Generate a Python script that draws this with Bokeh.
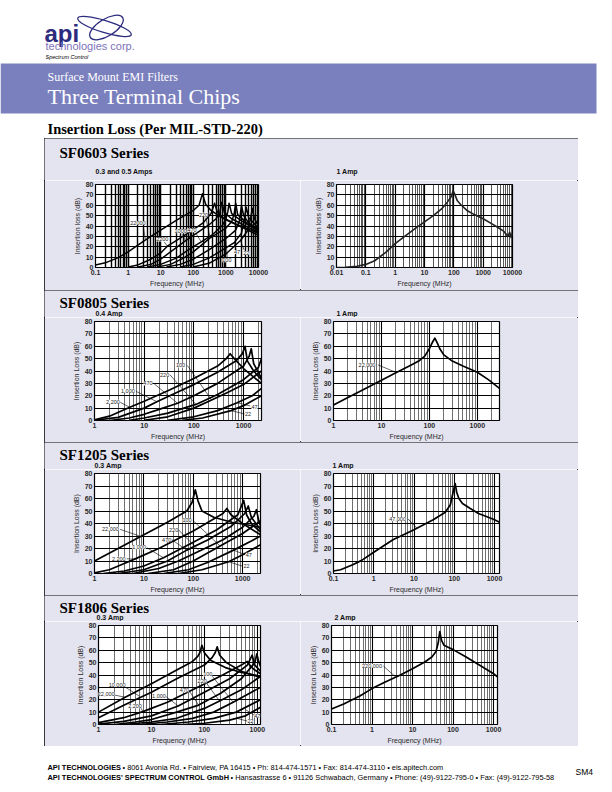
from bokeh.plotting import figure
from bokeh.models import (Range1d, FixedTicker, Label, LabelSet, ColumnDataSource, Spacer,
                          PrintfTickFormatter)
from bokeh.layouts import column, row
from bokeh.embed import file_html
from bokeh.resources import INLINE
from bokeh.core.properties import value

# ---------------------------------------------------------------- data
# SF0603 Series, 0.3 and 0.5 Amps  (frequency MHz / insertion loss dB)
F_0603A_22000 = [0.1, 0.2, 0.5, 1, 3, 10, 30, 100, 150, 190, 240, 350, 600, 1000, 3000, 10000]
DB_0603A_22000 = [2.5, 4.5, 9.5, 15, 25.5, 36, 45.5, 55, 60, 71, 61, 55, 50, 46, 39, 31]
F_0603A_2200 = [1, 2, 5, 10, 16, 30, 100, 200, 350, 450, 550, 800, 2000, 10000]
DB_0603A_2200 = [0.5, 2.5, 8, 14, 20.5, 26, 36.5, 43, 52, 62, 53, 48, 42, 33]
F_0603A_1000 = [2, 5, 10, 20, 57, 100, 300, 500, 650, 750, 900, 1500, 4000, 10000]
DB_0603A_1000 = [0.5, 3, 8, 15, 25.6, 31, 41, 47, 53, 63, 53, 47, 40, 34]
F_0603A_470 = [4, 10, 30, 70, 176, 400, 800, 1000, 1150, 1250, 1500, 3000, 10000]
DB_0603A_470 = [0.5, 3, 9, 17, 24.6, 32, 41, 47, 54, 62, 52, 45, 35]
F_0603A_220 = [8, 20, 50, 100, 330, 1000, 1500, 1800, 2000, 2300, 4000, 10000]
DB_0603A_220 = [0.5, 3, 9, 15, 28.5, 38, 44, 52, 62, 51, 44, 36]
F_0603A_100 = [15, 40, 100, 300, 1000, 2000, 2600, 3000, 3500, 5000, 10000]
DB_0603A_100 = [0.5, 3, 8, 17, 28, 36, 45, 60, 50, 43, 37]
F_0603A_47 = [40, 100, 300, 1000, 1800, 3000, 3600, 4200, 5000, 10000]
DB_0603A_47 = [0.5, 3, 9, 19, 24, 33, 45, 58, 48, 38]
F_0603A_22 = [100, 300, 1000, 2800, 4500, 5500, 6500, 7500, 10000]
DB_0603A_22 = [0.5, 4, 13, 26, 35, 45, 57, 47, 40]

# SF0603 Series, 1 Amp
F_0603B_1A = [0.01, 0.02, 0.05, 0.1, 0.2, 0.5, 1, 2, 5, 10, 20, 40, 60, 80, 95, 110, 130, 180,
              280, 500, 1000, 2000, 3000, 5000, 7000, 8000, 9000, 10000]
DB_0603B_1A = [0, 0.3, 1.2, 3, 6.5, 15, 23, 29.5, 38, 44, 50, 57, 63, 68, 74, 70, 64.5, 60,
               55, 51, 47, 42, 39, 35, 30, 34, 29, 33]

# SF0805 Series, 0.4 Amp
F_0805A_2200 = [1, 2, 5, 10, 30, 100, 300, 450, 537, 650, 1000, 1500, 2300]
DB_0805A_2200 = [0.5, 3.5, 10.5, 15.5, 24, 34, 44, 50, 54, 50, 42, 36, 30]
F_0805A_1000 = [1, 3, 10, 18, 50, 100, 300, 700, 950, 1070, 1200, 1600, 2300]
DB_0805A_1000 = [0.2, 2.5, 10, 15.2, 23.5, 29, 39, 48, 54, 60, 48, 40, 33]
F_0805A_470 = [2, 5, 10, 20, 47, 100, 300, 1000, 1300, 1430, 1600, 2300]
DB_0805A_470 = [0, 2, 5, 9, 13.9, 20, 30, 44, 52, 58, 46, 34]
F_0805A_220 = [5, 10, 30, 110, 300, 1000, 2000, 2300]
DB_0805A_220 = [0.2, 2, 6, 13, 21, 33, 43, 50]
F_0805A_100 = [10, 30, 100, 228, 500, 1000, 2300]
DB_0805A_100 = [0.2, 3, 10, 16.5, 23, 29, 40]
F_0805A_47 = [30, 100, 300, 745, 1500, 2300]
DB_0805A_47 = [0.2, 3, 8, 14.4, 20, 26]
F_0805A_22 = [60, 150, 560, 1000, 2300]
DB_0805A_22 = [0.2, 2, 8, 12, 20]

# SF0805 Series, 1 Amp (22,000 pF)
F_0805B_1A = [1, 2, 5, 10, 20, 40, 60, 80, 100, 115, 130, 145, 165, 200, 300, 500, 1000, 1700, 2900]
DB_0805B_1A = [12.6, 18.6, 26.5, 32.6, 38.6, 44.5, 48, 52, 58, 63, 66.5, 63, 58, 53, 48, 44, 39, 33, 26]

# SF1205 Series, 0.3 Amp
F_1205A_22000 = [1, 3, 10, 30, 74, 95, 110, 125, 150, 260, 600, 1200, 2300]
DB_1205A_22000 = [10, 20, 31, 41, 50, 57, 67, 58, 50, 45, 41, 39, 37]
F_1205A_2200 = [1, 2, 4, 6.5, 20, 50, 100, 200, 400, 480, 580, 1000, 2300]
DB_1205A_2200 = [0.5, 3, 8, 11.5, 20, 28, 34, 41, 48, 52, 47, 40, 31]
F_1205A_1000 = [1.5, 4, 10, 25, 100, 300, 800, 1050, 1200, 1500, 2300]
DB_1205A_1000 = [0, 2, 6, 12.6, 25, 35, 47, 58.5, 47, 40, 33]
F_1205A_470 = [3, 10, 30, 74, 200, 600, 1100, 1300, 1500, 2300]
DB_1205A_470 = [0, 3, 10, 18.7, 27, 38, 48, 54, 45, 35]
F_1205A_220 = [6, 20, 50, 134, 400, 1000, 1700, 1900, 2100, 2300]
DB_1205A_220 = [0, 4, 10, 18, 27, 37, 46, 51, 43, 38]
F_1205A_100 = [12, 40, 100, 350, 1000, 2300]
DB_1205A_100 = [0, 3, 10, 22, 32, 42]
F_1205A_47 = [25, 80, 200, 655, 1500, 2300]
DB_1205A_47 = [0, 3, 9, 18.7, 26, 30]
F_1205A_22 = [50, 150, 520, 1000, 2300]
DB_1205A_22 = [0, 3, 9.4, 15, 23]

# SF1205 Series, 1 Amp (47,000 pF)
F_1205B_1A = [0.1, 0.15, 0.3, 0.5, 1, 3, 10, 30, 60, 80, 95, 105, 115, 130, 160, 250, 400, 700, 1000, 1330]
DB_1205B_1A = [2, 3, 7, 10.5, 17, 27, 35, 43, 49, 55, 66, 72, 65, 60, 56, 52, 48, 45, 43, 41]

# SF1806 Series, 0.3 Amp
F_1806A_22000 = [1, 3, 10, 30, 60, 75, 82, 90, 100, 130, 250, 500, 1150]
DB_1806A_22000 = [10, 21.5, 33, 44, 51, 55, 58, 64, 58, 52, 46, 42, 39]
F_1806A_10000 = [1, 3, 10, 30, 100, 140, 160, 175, 195, 260, 500, 1150]
DB_1806A_10000 = [5.5, 15.5, 26, 37, 48, 54, 58, 62.7, 56, 50, 43, 38]
F_1806A_2200 = [1, 3, 6.9, 20, 60, 200, 500, 645, 750, 900, 1150]
DB_1806A_2200 = [1.5, 5.5, 10.4, 18, 28, 39, 48, 51, 47, 44, 41]
F_1806A_1000 = [1, 3, 10, 32, 100, 300, 650, 800, 900, 1150]
DB_1806A_1000 = [0.3, 2.5, 7, 15, 26, 37, 48, 56, 48, 43]
F_1806A_470 = [2, 5, 10, 30, 78, 200, 500, 900, 980, 1060, 1150]
DB_1806A_470 = [0, 2, 4, 10, 15.7, 25, 37, 50, 57, 51, 47]
F_1806A_220 = [3, 10, 30, 100, 194, 500, 1150]
DB_1806A_220 = [0, 2, 5, 13, 19, 28, 39]
F_1806A_100 = [6, 20, 60, 150, 350, 1150]
DB_1806A_100 = [0, 2, 5, 10, 18, 30]
F_1806A_47 = [15, 50, 150, 400, 1150]
DB_1806A_47 = [0, 2, 5, 10, 20]
F_1806A_22 = [40, 100, 300, 600, 1150]
DB_1806A_22 = [0, 1, 3.5, 7, 14]

# SF1806 Series, 2 Amp (220,000 pF)
F_1806B_2A = [0.1, 0.2, 0.5, 1, 2, 5, 10, 20, 30, 38, 43, 47, 52, 60, 80, 100, 200, 500, 1000, 1250]
DB_1806B_2A = [12.5, 16.5, 23, 29, 34, 40, 45, 50.5, 54.5, 59, 66, 75, 68, 64, 62, 60.5, 55, 47, 41, 38.5]

# curve call-out texts
TXT_0603A = ["22000", "2200", "1000", "470", "220", "100", "47", "22"]
TXT_0805A = ["2,200", "1,000", "470", "220", "100", "47", "22"]
TXT_0805B = ["22,000"]
TXT_1205A = ["22,000", "2,200", "1,000", "470", "220", "100", "47", "22"]
TXT_1205B = ["47,000"]
TXT_1806A = ["10,000", "22,000", "2,200", "1,000", "470", "220", "100", "47", "22"]
TXT_1806B = ["220,000"]

# ---------------------------------------------------------------- annotation placement (data space)
POS_0603A = [(2.0, 43), (11.2, 27), (41, 35), (91, 36), (207, 51), (1070, 7), (2200, 15), (4200, 14)]
LEAD_0603A = [(2.9, 40, 3.4, 27), (13, 24.5, 16, 20.5), (47, 32.5, 57, 25.6), (120, 33, 176, 24.6),
              (240, 48, 330, 28.5), (1100, 9.5, 1000, 28), (2050, 17, 1800, 24), (3600, 17, 2800, 26)]
POS_0805A = [(2.35, 15.2), (4.7, 24), (11.9, 30), (25.8, 37), (54, 44.5), (1660, 11), (1230, 5)]
LEAD_0805A = [(3.3, 14.7, 5.1, 10.7), (6.9, 23.5, 18, 15.2), (15.6, 30, 47, 13.9), (33, 37, 110, 13),
              (74, 44.5, 228, 16.5), (1370, 11.7, 745, 14.4), (1050, 5.3, 560, 8)]
POS_0805B = [(5, 45)]
LEAD_0805B = [(8.4, 45, 21, 38.6)]
POS_1205A = [(2.1, 35.8), (3.1, 11.8), (8, 21), (29, 27), (40, 35), (75, 42.5), (1330, 15), (1200, 6)]
LEAD_1205A = [(3.3, 35.3, 8.2, 30), (4.5, 11.8, 6.5, 11.5), (11.5, 20.6, 25, 12.6), (37, 27, 74, 18.7),
              (50, 35, 134, 18), (98, 42.5, 350, 22), (1120, 15, 655, 18.7), (970, 6, 520, 9.4)]
POS_1205B = [(3.9, 43.7)]
LEAD_1205B = [(7.1, 43.7, 12, 36)]
POS_1806A = [(2.25, 32), (1.4, 24.5), (4.9, 14.7), (13.9, 22.7), (42, 27.7), (91, 35), (116, 40.5),
             (1000, 7.2), (745, 2.7)]
LEAD_1806A = [(3.0, 31, 6, 22.7), (1.9, 24, 3.2, 22), (6.2, 14, 6.9, 10.4), (19, 22.5, 32, 15),
              (52, 27, 78, 15.7), (105, 34.5, 194, 19), (135, 40, 350, 18), (880, 7.5, 600, 12),
              (660, 2.7, 410, 5)]
POS_1806B = [(1.0, 47.5)]
LEAD_1806B = [(1.9, 47.3, 3.8, 38.5)]

# ---------------------------------------------------------------- styling
LAV = "#e4e4f0"
BAND = "#7a80be"
NAVY = "#2c2c7e"
PURPLE = "#7c72b9"
SANS = "Liberation Sans"
SERIF = "Liberation Serif"
Y_TICKS = [0, 10, 20, 30, 40, 50, 60, 70, 80]
OUTLINE = {"outline": "1px solid #000", "outline-offset": "-1px"}


def chart(w, h, borders, xr, curves, ylab, texts, pos, leads,
          minor_color="#4a4a4a", minor_width=0.8, major_width=1.1,
          curve_color="black", curve_width=1.7):
    fl, fr, ft, fb = borders
    p = figure(width=w, height=h, x_axis_type="log", x_range=Range1d(*xr), y_range=Range1d(0, 80),
               output_backend="svg", toolbar_location=None,
               min_border_left=fl, min_border_right=fr, min_border_top=ft, min_border_bottom=fb)
    p.border_fill_color = LAV
    p.background_fill_color = "white"
    p.outline_line_color = "black"
    p.outline_line_width = 1.2

    majors = [10.0 ** k for k in range(-3, 6) if xr[0] * 0.999 <= 10.0 ** k <= xr[1] * 1.001]
    minors = [m * 10.0 ** k for k in range(-3, 5) for m in range(2, 10) if xr[0] < m * 10.0 ** k < xr[1]]
    xt = FixedTicker(ticks=majors, minor_ticks=minors)
    yt = FixedTicker(ticks=Y_TICKS)
    p.xaxis.ticker = xt
    p.xgrid.ticker = xt
    p.yaxis.ticker = yt
    p.ygrid.ticker = yt
    p.xaxis.formatter = PrintfTickFormatter(format="%g")
    for ax in (p.xaxis[0], p.yaxis[0]):
        ax.axis_line_color = None
        ax.major_tick_line_color = None
        ax.minor_tick_line_color = None
        ax.major_tick_out = 0
        ax.major_tick_in = 0
        ax.minor_tick_out = 0
        ax.minor_tick_in = 0
        ax.major_label_text_font = SANS
        ax.major_label_text_font_size = "7px"
        ax.major_label_text_font_style = "bold"
        ax.major_label_text_color = "#2a2a2a"
        ax.axis_label_text_font = SANS
        ax.axis_label_text_font_size = "7px"
        ax.axis_label_text_font_style = "normal"
        ax.axis_label_text_color = "#2a2a2a"
        ax.major_label_standoff = 2
        ax.axis_label_standoff = 2
    p.xaxis.axis_label = "Frequency (MHz)"
    p.yaxis.axis_label = ylab

    p.xgrid.grid_line_color = "black"
    p.xgrid.grid_line_width = major_width
    p.xgrid.minor_grid_line_color = minor_color
    p.xgrid.minor_grid_line_width = minor_width
    p.ygrid.grid_line_color = "black"
    p.ygrid.grid_line_width = 1.1

    for f, db in curves:
        p.line(f, db, line_color=curve_color, line_width=curve_width, line_join="round")

    if texts:
        p.segment(x0=[l[0] for l in leads], y0=[l[1] for l in leads],
                  x1=[l[2] for l in leads], y1=[l[3] for l in leads],
                  line_color="black", line_width=0.6)
        src = ColumnDataSource(dict(x=[q[0] for q in pos], y=[q[1] for q in pos], t=texts))
        p.add_layout(LabelSet(x="x", y="y", text="t", source=src, text_font=value(SANS),
                              text_font_size=value("5.5px"), text_align="center",
                              text_baseline="middle", text_color="#222222",
                              background_fill_color="white"))
    return p


def strip(top, h, series, titles):
    """Band above the two charts of a section: series name and the two chart titles."""
    s = figure(width=534, height=h, x_range=Range1d(44, 578), y_range=Range1d(top + h, top),
               output_backend="svg", toolbar_location=None, min_border=0,
               x_axis_location=None, y_axis_location=None)
    s.grid.visible = False
    s.outline_line_color = None
    s.background_fill_color = LAV
    s.border_fill_color = LAV
    s.add_layout(Label(x=59, y=series[1], text=series[0], text_font=SERIF, text_font_size="15px",
                       text_font_style="bold", text_color="black", text_baseline="middle"))
    for tx, ty, tt in titles:
        s.add_layout(Label(x=tx, y=ty, text=tt, text_font=SANS, text_font_size="7px",
                           text_font_style="bold", text_color="#111111", text_baseline="middle"))
    return s


# ---- section 1 : page y 138..290
s1 = strip(138, 42, ("SF0603 Series", 152), [(95, 171, "0.3 and 0.5 Amps"), (336, 171, "1 Amp")])
c1 = chart(256, 110, (51, 42, 4, 23), (0.1, 10000),
           [(F_0603A_22000, DB_0603A_22000), (F_0603A_2200, DB_0603A_2200), (F_0603A_1000, DB_0603A_1000),
            (F_0603A_470, DB_0603A_470), (F_0603A_220, DB_0603A_220), (F_0603A_100, DB_0603A_100),
            (F_0603A_47, DB_0603A_47), (F_0603A_22, DB_0603A_22)],
           "Insertion loss (dB)", TXT_0603A, POS_0603A, LEAD_0603A,
           minor_color="black", minor_width=1.4, major_width=1.5, curve_width=1.5)
c2 = chart(278, 110, (36, 66, 4, 23), (0.01, 10000), [(F_0603B_1A, DB_0603B_1A)],
           "Insertion loss (dB)", [], [], [],
           minor_color="#444444", minor_width=0.9, major_width=1.2, curve_color="#222222", curve_width=1.6)
sec1 = column(s1, row(c1, c2), styles=OUTLINE)

# ---- section 2 : page y 290..442
s2 = strip(290, 27, ("SF0805 Series", 302), [(95, 313, "0.4 Amp"), (336, 312.5, "1 Amp")])
c3 = chart(256, 125, (50, 39, 4, 20), (1, 2300),
           [(F_0805A_2200, DB_0805A_2200), (F_0805A_1000, DB_0805A_1000), (F_0805A_470, DB_0805A_470),
            (F_0805A_220, DB_0805A_220), (F_0805A_100, DB_0805A_100), (F_0805A_47, DB_0805A_47),
            (F_0805A_22, DB_0805A_22)],
           "Insertion Loss (dB)", TXT_0805A, POS_0805A, LEAD_0805A)
c4 = chart(278, 125, (33, 79, 4, 20), (1, 2900), [(F_0805B_1A, DB_0805B_1A)],
           "Insertion Loss (dB)", TXT_0805B, POS_0805B, LEAD_0805B)
sec2 = column(s2, row(c3, c4), styles=OUTLINE)

# ---- section 3 : page y 442..595
s3 = strip(442, 27, ("SF1205 Series", 454), [(94, 465, "0.3 Amp"), (332, 465, "1 Amp")])
c5 = chart(256, 126, (50, 40, 4, 21), (1, 2300),
           [(F_1205A_22000, DB_1205A_22000), (F_1205A_2200, DB_1205A_2200), (F_1205A_1000, DB_1205A_1000),
            (F_1205A_470, DB_1205A_470), (F_1205A_220, DB_1205A_220), (F_1205A_100, DB_1205A_100),
            (F_1205A_47, DB_1205A_47), (F_1205A_22, DB_1205A_22)],
           "Insertion Loss (dB)", TXT_1205A, POS_1205A, LEAD_1205A)
c6 = chart(278, 126, (33, 79, 4, 22), (0.1, 1330), [(F_1205B_1A, DB_1205B_1A)],
           "Insertion Loss (dB)", TXT_1205B, POS_1205B, LEAD_1205B)
sec3 = column(s3, row(c5, c6), styles=OUTLINE)

# ---- section 4 : page y 595..746
s4 = strip(595, 26, ("SF1806 Series", 607), [(96, 617, "0.3 Amp"), (334, 617, "2 Amp")])
c7 = chart(256, 125, (54, 40, 4, 20), (1, 1150),
           [(F_1806A_22000, DB_1806A_22000), (F_1806A_10000, DB_1806A_10000), (F_1806A_2200, DB_1806A_2200),
            (F_1806A_1000, DB_1806A_1000), (F_1806A_470, DB_1806A_470), (F_1806A_220, DB_1806A_220),
            (F_1806A_100, DB_1806A_100), (F_1806A_47, DB_1806A_47), (F_1806A_22, DB_1806A_22)],
           "Insertion Loss (dB)", TXT_1806A, POS_1806A, LEAD_1806A)
c8 = chart(278, 125, (31, 81, 4, 20), (0.1, 1250), [(F_1806B_2A, DB_1806B_2A)],
           "Insertion Loss (dB)", TXT_1806B, POS_1806B, LEAD_1806B)
sec4 = column(s4, row(c7, c8), styles=OUTLINE)

box = column(sec1, sec2, sec3, sec4, styles=OUTLINE)

# ---------------------------------------------------------------- header (page y 0..138)
hdr = figure(width=600, height=138, x_range=Range1d(0, 600), y_range=Range1d(138, 0),
             output_backend="svg", toolbar_location=None, min_border=0,
             x_axis_location=None, y_axis_location=None)
hdr.grid.visible = False
hdr.outline_line_color = None
hdr.background_fill_color = "white"
hdr.border_fill_color = "white"
hdr.quad(left=[0], right=[596], top=[63], bottom=[113], fill_color=BAND, line_color=None)
hdr.ellipse(x=[104, 106], y=[26, 27], width=[56, 38], height=[12, 17], angle=[-0.3, 0.55],
            fill_color=None, line_color=NAVY, line_width=1.3)
hdr.add_layout(Label(x=44, y=33, text="api", text_font=SANS, text_font_size="24px",
                     text_font_style="bold", text_color=NAVY, text_baseline="middle"))
hdr.add_layout(Label(x=45, y=45, text="technologies corp.", text_font=SANS, text_font_size="11px",
                     text_color=PURPLE, text_baseline="middle"))
hdr.add_layout(Label(x=45, y=56, text="Spectrum Control", text_font=SANS, text_font_size="5.5px",
                     text_font_style="italic", text_color="black", text_baseline="middle"))
hdr.add_layout(Label(x=47, y=76, text="Surface Mount EMI Filters", text_font=SERIF,
                     text_font_size="12px", text_color="white", text_baseline="middle"))
hdr.add_layout(Label(x=47, y=96, text="Three Terminal Chips", text_font=SERIF,
                     text_font_size="22px", text_color="white", text_baseline="middle"))
hdr.add_layout(Label(x=47, y=128, text="Insertion Loss (Per MIL-STD-220)", text_font=SERIF,
                     text_font_size="14.5px", text_font_style="bold", text_color="black",
                     text_baseline="middle"))

# ---------------------------------------------------------------- footer (page y 746..790)
ftr = figure(width=600, height=44, x_range=Range1d(0, 600), y_range=Range1d(790, 746),
             output_backend="svg", toolbar_location=None, min_border=0,
             x_axis_location=None, y_axis_location=None)
ftr.grid.visible = False
ftr.outline_line_color = None
ftr.background_fill_color = "white"
ftr.border_fill_color = "white"
FOOT = [(47, 767, "API TECHNOLOGIES", "bold"),
        (122, 767, "\u2022 8061 Avonia Rd. \u2022 Fairview, PA 16415 \u2022 Ph: 814-474-1571 \u2022 "
                   "Fax: 814-474-3110 \u2022 eis.apitech.com", "normal"),
        (47, 777, "API TECHNOLOGIES' SPECTRUM CONTROL GmbH", "bold"),
        (230, 777, "\u2022 Hansastrasse 6 \u2022 91126 Schwabach, Germany \u2022 Phone: (49)-9122-795-0 "
                   "\u2022 Fax: (49)-9122-795-58", "normal")]
for fx, fy, ft_, st in FOOT:
    ftr.add_layout(Label(x=fx, y=fy, text=ft_, text_font=SANS, text_font_size="7.4px",
                         text_font_style=st, text_color="black", text_baseline="middle"))
ftr.add_layout(Label(x=575, y=771, text="SM4", text_font=SANS, text_font_size="8.5px",
                     text_color="black", text_baseline="middle"))

page = column(hdr, row(Spacer(width=44, height=608), box), ftr)

open("out.html", "w").write(file_html(page, INLINE))
